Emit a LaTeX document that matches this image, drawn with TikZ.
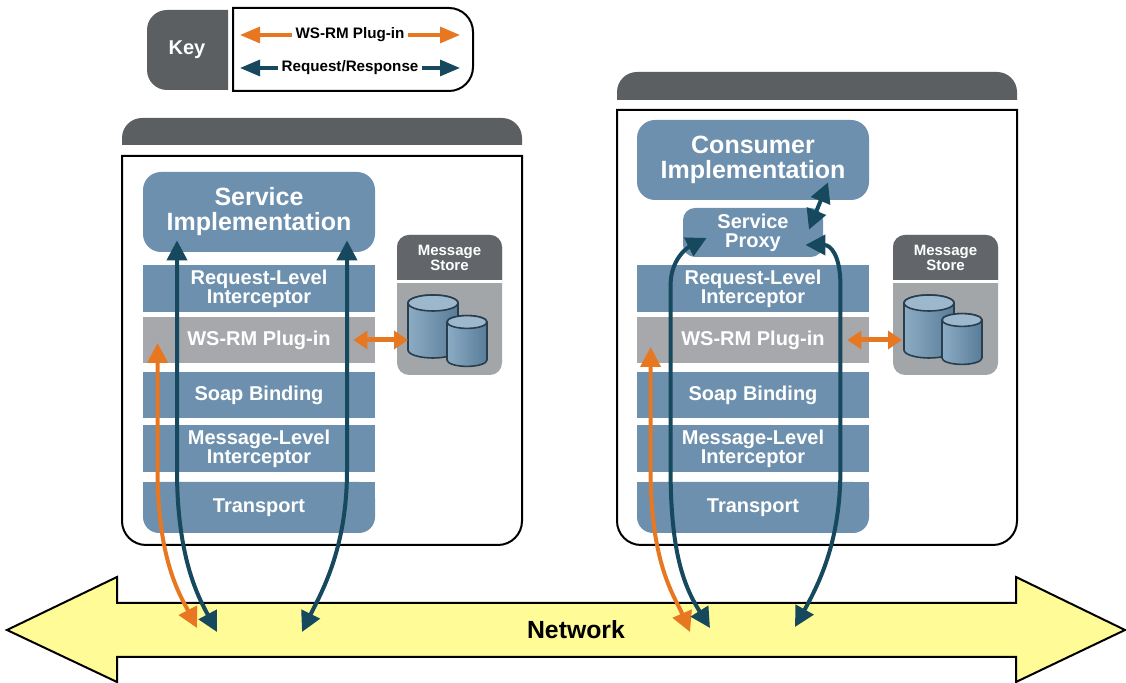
\documentclass[tikz,border=0pt]{standalone}
\usepackage{fontspec}
\setmainfont{Liberation Sans}
\usetikzlibrary{arrows.meta,calc}

\definecolor{layerblue}{RGB}{108,144,173}
\definecolor{plugingray}{RGB}{166,168,171}
\definecolor{tabgray}{RGB}{91,95,98}
\definecolor{storedark}{RGB}{98,102,106}
\definecolor{storegray}{RGB}{163,166,169}
\definecolor{rrteal}{RGB}{22,72,94}
\definecolor{rmorange}{RGB}{232,119,34}
\definecolor{netyellow}{RGB}{255,251,150}
\definecolor{cyllight}{RGB}{140,172,196}
\definecolor{cyldark}{RGB}{88,124,152}
\definecolor{cyledge}{RGB}{40,62,78}

\tikzset{
  boxline/.style={draw=black, line width=1pt},
  impl/.style={fill=layerblue, text=white, rounded corners=9pt, minimum width=116pt,
    minimum height=40pt, inner sep=0pt, align=center,
    font=\bfseries\fontsize{12.5}{12.5}\selectfont},
  stackbox/.style={fill=layerblue, text=white, minimum width=116pt, minimum height=23.5pt,
    inner sep=0pt, align=center, font=\bfseries\fontsize{10}{9.5}\selectfont},
  plugin/.style={stackbox, fill=plugingray},
  storetext/.style={text=white, align=center, inner sep=0pt,
    font=\bfseries\fontsize{7.5}{7.5}\selectfont},
  keylabel/.style={fill=white, inner sep=1.5pt, font=\bfseries\fontsize{7.6}{8}\selectfont},
  rr/.style={draw=rrteal, line width=2pt,
    {Triangle[length=10pt,width=10pt]}-{Triangle[length=10pt,width=10pt]}},
  rm/.style={rr, draw=rmorange},
  storearrow/.style={draw=rmorange, line width=2.5pt,
    {Triangle[length=7pt,width=9pt]}-{Triangle[length=7pt,width=9pt]}},
  keyarrow/.style={line width=1.6pt, -{Triangle[length=10pt,width=8pt]}},
  cylbody/.style={draw=cyledge, line width=0.8pt, left color=cyllight, right color=cyldark},
  cyltop/.style={draw=cyledge, line width=0.8pt, fill=cyllight!85!white},
}

% database cylinder: centre x, top y, half width, height (px)
\newcommand\dbcyl[4]{%
  \path[cylbody] (#1-#3,#2) -- (#1-#3,#2+#4)
    arc[start angle=180, end angle=360, x radius=#3*0.5pt, y radius=#3*0.16pt]
    -- (#1+#3,#2)
    arc[start angle=0, end angle=180, x radius=#3*0.5pt, y radius=#3*0.16pt] -- cycle;
  \path[cyltop] (#1,#2) ellipse[x radius=#3*0.5pt, y radius=#3*0.16pt];}

\begin{document}
\begin{tikzpicture}[x=0.5pt, y=-0.5pt]
  \useasboundingbox (0,0) rectangle (1126,683);

  % Key
  \fill[tabgray] (228,10) [rounded corners=10pt] -- (147,10) -- (147,90) [sharp corners] -- (228,90) -- cycle;
  \node[text=white, font=\bfseries\fontsize{10}{10}\selectfont] (key) at (187,50) {Key};
  \draw[boxline] (233,8) [rounded corners=12pt] -- (473,8) -- (473,91) [sharp corners] -- (233,91) -- cycle;
  \node[keylabel] (kws) at (350,35) {WS-RM Plug-in};
  \node[keylabel] (krr) at (350,68) {Request/Response};
  \coordinate (kwsL) at (240,35);
  \coordinate (kwsR) at (460,35);
  \coordinate (krrL) at (240,68);
  \coordinate (krrR) at (460,68);
  \draw[keyarrow, draw=rmorange] (kws.west) -- (kwsL);
  \draw[keyarrow, draw=rmorange] (kws.east) -- (kwsR);
  \draw[keyarrow, draw=rrteal] (krr.west) -- (krrL);
  \draw[keyarrow, draw=rrteal] (krr.east) -- (krrR);

  % Service side
  \fill[tabgray] (122,145) [rounded corners=10pt] -- (122,118) -- (522,118) [sharp corners] -- (522,145) -- cycle;
  \draw[boxline] (522,156) -- (122,156) [rounded corners=12pt] -- (122,545) -- (522,545) [sharp corners] -- cycle;

  \node[impl] (si) at (259,212) {Service\\Implementation};
  \node[stackbox] (rl1) at (259,288.5) {Request-Level\\Interceptor};
  \node[plugin, minimum height=23pt] (ws1) at (259,340) {WS-RM Plug-in};
  \node[stackbox, minimum height=23pt] (sb1) at (259,395) {Soap Binding};
  \node[stackbox] (ml1) at (259,448.5) {Message-Level\\Interceptor};
  \fill[layerblue] (143,482) rectangle (375,505);
  \node[stackbox, rounded corners=8pt, minimum height=25.5pt] (tp1) at (259,507.5) {Transport};

  \fill[storegray, rounded corners=6pt] (397,235) rectangle (502,375);
  \fill[storedark] (397,280) [rounded corners=6pt] -- (397,235) -- (502,235) [sharp corners] -- (502,280) -- cycle;
  \fill[white] (397,280) rectangle (502,283);
  \node[storetext] (ms1) at (449.5,257.5) {Message\\Store};
  \dbcyl{433}{303}{25}{47}
  \dbcyl{467}{322}{20}{38}
  \coordinate (st1) at (408,340);

  % Consumer side
  \fill[tabgray] (617,100) [rounded corners=10pt] -- (617,72) -- (1017,72) [sharp corners] -- (1017,100) -- cycle;
  \draw[boxline] (1017,110) -- (617,110) [rounded corners=12pt] -- (617,545) -- (1017,545) [sharp corners] -- cycle;

  \node[impl] (ci) at (753,160) {Consumer\\Implementation};
  \node[stackbox, rounded corners=6pt, minimum width=70pt, minimum height=24.5pt] (sp) at (753,232.5) {Service\\Proxy};
  \node[stackbox] (rl2) at (753,288.5) {Request-Level\\Interceptor};
  \node[plugin, minimum height=23pt] (ws2) at (753,340) {WS-RM Plug-in};
  \node[stackbox, minimum height=23pt] (sb2) at (753,395) {Soap Binding};
  \node[stackbox] (ml2) at (753,448.5) {Message-Level\\Interceptor};
  \fill[layerblue] (637,482) rectangle (869,505);
  \node[stackbox, rounded corners=8pt, minimum height=25.5pt] (tp2) at (753,507.5) {Transport};

  \fill[storegray, rounded corners=6pt] (893,235) rectangle (998,375);
  \fill[storedark] (893,280) [rounded corners=6pt] -- (893,235) -- (998,235) [sharp corners] -- (998,280) -- cycle;
  \fill[white] (893,280) rectangle (998,283);
  \node[storetext] (ms2) at (945.5,257.5) {Message\\Store};
  \dbcyl{929}{303}{25}{47}
  \dbcyl{962}{320}{20}{38}
  \coordinate (st2) at (902,340);

  % Network
  \draw[fill=netyellow, line width=1pt] (7,630) -- (117,577) -- (117,603) -- (1016,603) -- (1016,577)
    -- (1125,630) -- (1016,682) -- (1016,657) -- (117,657) -- (117,682) -- cycle;
  \node[font=\bfseries\fontsize{12.4}{12.4}\selectfont] (net) at (576,630) {Network};
  \coordinate (n1o) at (197,628);
  \coordinate (n1a) at (217,632);
  \coordinate (n1b) at (302,632);
  \coordinate (n2o) at (690,632);
  \coordinate (n2a) at (710,628);
  \coordinate (n2b) at (795,627);

  % Plug-in to store
  \draw[storearrow] ($(ws1.east)+(-22,0)$) -- (st1);
  \draw[storearrow] ($(ws2.east)+(-22,0)$) -- (st2);

  % Message paths
  \draw[rm] ($(ws1.west)+(15,3)$) -- ++(0,127) .. controls +(0,90) and +(-17,-33) .. (n1o);
  \draw[rr] ($(si.south)+(-82,-12)$) -- ++(0,230) .. controls +(0,90) and +(-17,-32) .. (n1a);
  \draw[rr] ($(si.south)+(88,-12)$) -- ++(0,230) .. controls +(0,80) and +(18,-37) .. (n1b);

  \draw[rm] ($(ws2.west)+(14,7)$) -- ++(0,123) .. controls +(0,95) and +(-15,-35) .. (n2o);
  \draw[rr] ($(sp.west)+(24,5.5)$) .. controls +(-20,10) and +(0,-25) .. ++(-36,47)
    -- ++(0,185) .. controls +(0,85) and +(-25,-40) .. (n2a);
  \draw[rr] ($(sp.east)+(-18,12.5)$) .. controls +(25,0) and +(0,-30) .. ++(35,40)
    -- ++(0,185) .. controls +(0,70) and +(25,-45) .. (n2b);
  \draw[rr] ($(sp.north)+(56,22)$) -- ($(ci.south)+(75,-18)$);
\end{tikzpicture}
\end{document}
